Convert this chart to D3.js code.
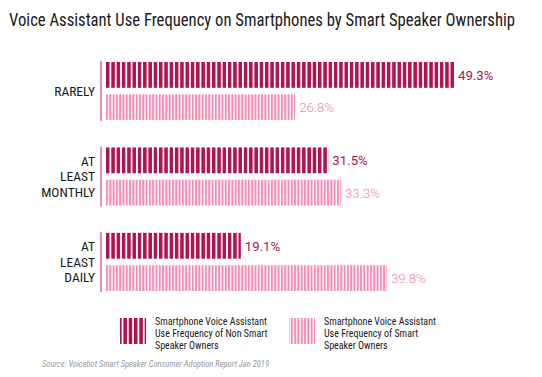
<!DOCTYPE html>
<html><head><meta charset="utf-8">
<script src="https://cdn.jsdelivr.net/npm/d3@7"></script>
<style>
body{margin:0;background:#fff;}
svg{display:block;}
text{font-family:"Roboto Condensed","Liberation Sans Narrow","DejaVu Sans Condensed",Roboto,sans-serif;}
</style></head>
<body>
<svg id="c" width="542" height="377"></svg>
<script>
const title = "Voice Assistant Use Frequency on Smartphones by Smart Speaker Ownership";
const categories = ["RARELY", "AT LEAST MONTHLY", "AT LEAST DAILY"];
const categoryLines = [["RARELY"], ["AT", "LEAST", "MONTHLY"], ["AT", "LEAST", "DAILY"]];
const seriesNames = ["Smartphone Voice Assistant Use Frequency of Non Smart Speaker Owners",
                     "Smartphone Voice Assistant Use Frequency of Smart Speaker Owners"];
const legendLines = [["Smartphone Voice Assistant", "Use Frequency of Non Smart", "Speaker Owners"],
                     ["Smartphone Voice Assistant", "Use Frequency of Smart", "Speaker Owners"]];
const nonOwners = [49.3, 31.5, 19.1];
const owners = [26.8, 33.3, 39.8];
const source = "Source: Voicebot Smart Speaker Consumer Adoption Report Jan 2019";

const colors = ["#b0134f", "#f48db6"];
const textColors = ["#a8164e", "#f08ab2"];

const svg = d3.select("#c");
const defs = svg.append("defs");
const x0 = 106;
function stripePattern(id, period, stripe, color, originX) {
  const pt = defs.append("pattern").attr("id", id).attr("patternUnits","userSpaceOnUse")
    .attr("x", originX).attr("y", 0).attr("width", period).attr("height", 10);
  pt.append("rect").attr("x",0).attr("y",0).attr("width",stripe).attr("height",10).attr("fill",color);
}
stripePattern("pDark", 5.3, 3.5, colors[0], x0);
stripePattern("pLight", 3.3, 2.0, colors[1], x0);
stripePattern("pDarkL", 5.3, 3.5, colors[0], 120);
stripePattern("pLightL", 3.3, 2.0, colors[1], 289);

svg.append("text").attr("x", 9).attr("y", 26).attr("font-size", 17.5).attr("fill","#1a1a1a")
  .attr("textLength", 506).attr("lengthAdjust","spacingAndGlyphs").text(title);

const x = d3.scaleLinear().domain([0, 60]).range([x0, x0 + 60 * (454 - x0) / 49.3]);
const y = d3.scaleBand().domain(categories).range([62, 291]).paddingInner(0.32);
const ys = d3.scaleBand().domain([0,1]).range([0, y.bandwidth()]).paddingInner(0.2);

const data = categories.map((c, i) => ({cat: c, lines: categoryLines[i], vals: [nonOwners[i], owners[i]]}));

const g = svg.selectAll("g.grp").data(data).join("g").attr("class","grp")
  .attr("transform", d => `translate(0,${y(d.cat)})`);

g.append("line").attr("x1", 101).attr("x2", 101).attr("y1", -1).attr("y2", y.bandwidth() + 1)
  .attr("stroke", "#e8649a").attr("stroke-width", 1.5);

g.selectAll("rect.bar").data(d => d.vals.map((v, k) => ({v, k}))).join("rect").attr("class","bar")
  .attr("x", x(0)).attr("y", d => ys(d.k)).attr("width", d => x(d.v) - x(0)).attr("height", ys.bandwidth())
  .attr("fill", d => d.k === 0 ? "url(#pDark)" : "url(#pLight)");

g.selectAll("text.val").data(d => d.vals.map((v, k) => ({v, k}))).join("text").attr("class","val")
  .attr("x", d => x(d.v) + 4).attr("y", d => ys(d.k) + ys.bandwidth()/2 + 5)
  .attr("font-size", 13.2).attr("fill", d => textColors[d.k])
  .style("font-family", "Roboto, sans-serif").style("font-weight", d => d.k === 0 ? 400 : 300)
  .text(d => d.v.toFixed(1) + "%");

g.each(function(d) {
  const n = d.lines.length, lh = 15.5;
  const mid = y.bandwidth() / 2;
  d3.select(this).selectAll("text.cat").data(d.lines).join("text").attr("class","cat")
    .attr("x", 95).attr("text-anchor","end").attr("font-size", 13.5).attr("fill","#1a1a1a")
    .attr("y", (t, j) => mid + (j - (n - 1) / 2) * lh + 4.8).text(t => t);
});

// legend
const lg = svg.selectAll("g.leg").data(seriesNames).join("g").attr("class","leg")
  .attr("transform", (d, i) => `translate(${i === 0 ? 120 : 289},318)`);
lg.append("rect").attr("x", 0).attr("y", 0).attr("width", 26).attr("height", 26)
  .attr("fill", (d, i) => i === 0 ? "url(#pDarkL)" : "url(#pLightL)");
lg.each(function(d, i) {
  d3.select(this).selectAll("text").data(legendLines[i]).join("text")
    .attr("x", 35).attr("y", (t, j) => 7 + j * 11.8).attr("font-size", 10).attr("fill", "#1a1a1a")
    .text(t => t);
});

svg.append("text").attr("x", 42).attr("y", 367).attr("font-size", 8.5).attr("font-style","italic")
  .attr("fill", "#9a9a9a").text(source);
</script>
</body></html>
